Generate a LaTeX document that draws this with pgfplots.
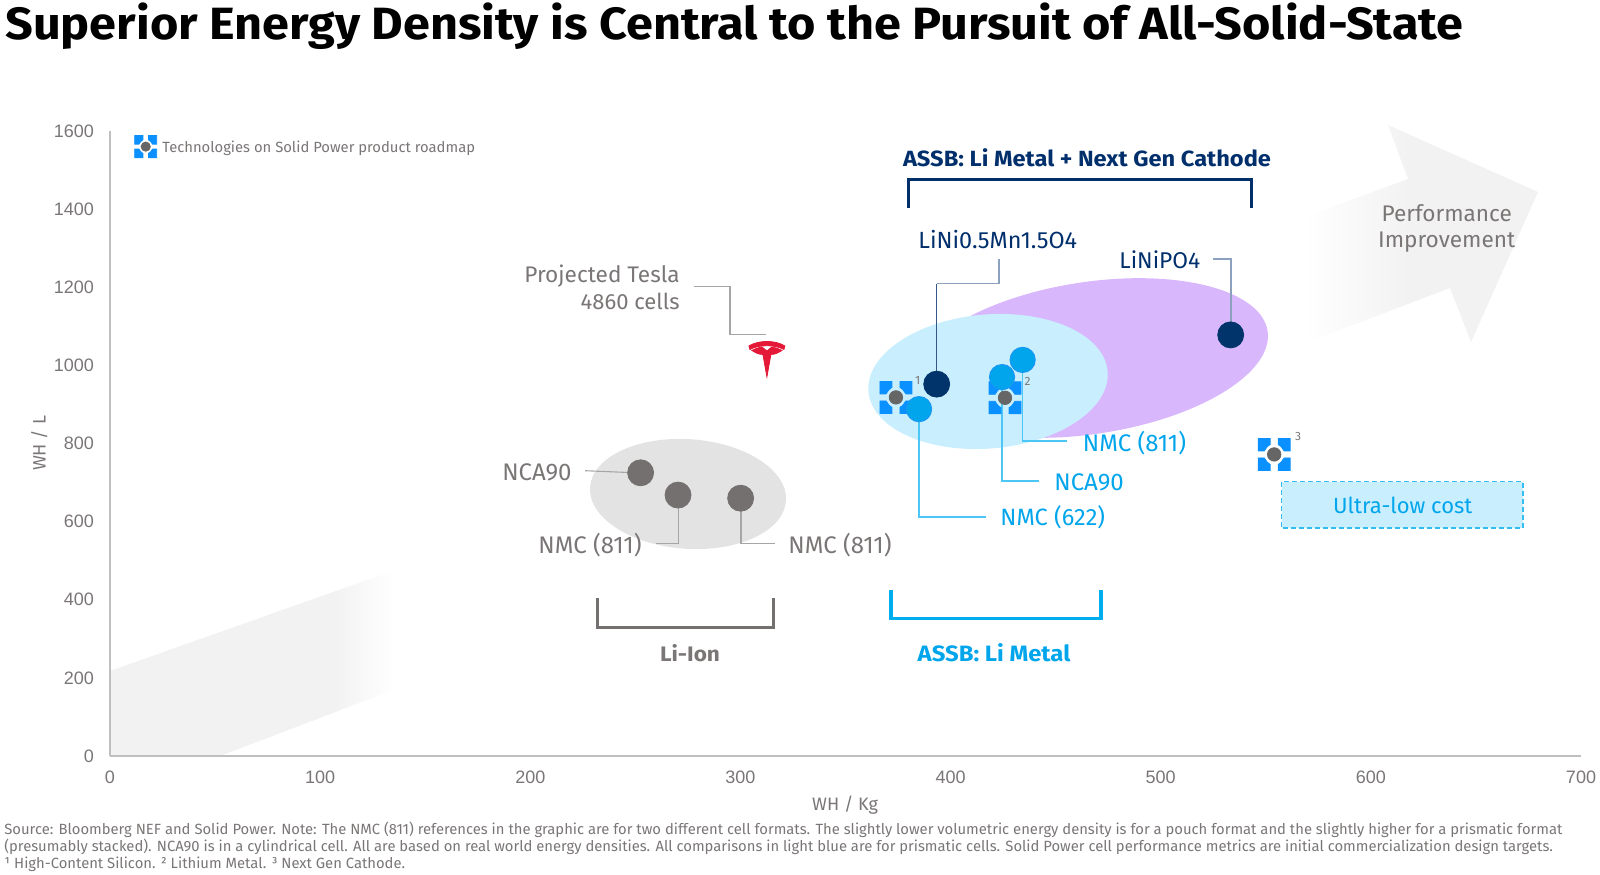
\documentclass[border=0pt]{standalone}
\usepackage{pgfplots}
\pgfplotsset{compat=1.18}
\usepackage{fontspec}
\setmainfont{Fira Sans}[BoldFeatures={FakeStretch=1.075}]
\newfontfamily\arial{Liberation Sans}
\definecolor{navy}{HTML}{002F6C}
\definecolor{dotnavy}{HTML}{00346B}
\definecolor{sky}{HTML}{00AEEF}
\definecolor{skyd}{HTML}{00A5EC}
\definecolor{txt}{HTML}{7A7676}
\definecolor{dotgray}{HTML}{757070}
\definecolor{lead}{HTML}{A6A6A6}
\definecolor{iconblue}{HTML}{0A90FF}
\definecolor{icongray}{HTML}{666666}
\definecolor{band}{HTML}{F2F2F2}
\definecolor{teslared}{HTML}{E31937}
\newcommand\fs[1]{\fontsize{#1}{#1}\selectfont}
\pgfdeclareplotmark{spicon}{%
  \fill[iconblue,x=\pgfplotmarksize,y=\pgfplotmarksize]
      (-1,1) -- (-.25,1) -- (-.25,.62) .. controls (-.38,.56) and (-.55,.38) .. (-.62,.22) -- (-1,.22) -- cycle
      (1,1) -- (.25,1) -- (.25,.62) .. controls (.38,.56) and (.55,.38) .. (.62,.22) -- (1,.22) -- cycle
      (-1,-1) -- (-.25,-1) -- (-.25,-.62) .. controls (-.38,-.56) and (-.55,-.38) .. (-.62,-.22) -- (-1,-.22) -- cycle
      (1,-1) -- (.25,-1) -- (.25,-.62) .. controls (.38,-.56) and (.55,-.38) .. (.62,-.22) -- (1,-.22) -- cycle;
  \fill[icongray] (0,0) circle [radius=.42\pgfplotmarksize];}
\pgfdeclareplotmark{teslamark}{%
  \fill[teslared,x=.5pt,y=.5pt] (-18,12) .. controls (-8,18) and (8,18) .. (18,12)
     -- (17,8.5) .. controls (8,13.5) and (-8,13.5) .. (-17,8.5) -- cycle;
  \fill[teslared,x=.5pt,y=.5pt] (-15,7.5) .. controls (-11,9.5) and (-8,10.5) .. (-5,11)
     -- (0,7) -- (5,11) .. controls (8,10.5) and (11,9.5) .. (15,7.5)
     .. controls (11,5) and (8,3.5) .. (4,3.5) -- (0,-19) -- (-4,3.5)
     .. controls (-8,3.5) and (-11,5) .. (-15,7.5) -- cycle;}
\begin{document}
\begin{tikzpicture}
\useasboundingbox (0,0) rectangle (800pt,437pt);
\begin{scope}[x=.5pt,y=-.5pt,yshift=437pt]
  % faded performance band
  \begin{scope}
    \clip (110,671) -- (110,756) -- (220,756) -- (480,657) -- (480,540) -- cycle;
    \fill[band] (110,500) rectangle (336,756);
    \shade[left color=band,right color=white] (335,500) rectangle (394,756);
  \end{scope}
  \begin{scope}
    \clip (1250,237) -- (1408,179) -- (1388,125) -- (1538,192) -- (1471,342) -- (1450,288) -- (1250,364) -- cycle;
    \shade[left color=white,right color=band] (1305,100) rectangle (1410,400);
    \fill[band] (1409,100) rectangle (1560,400);
  \end{scope}
  % clusters
  \fill[fill=black!11,shift={(688,494)},rotate=-4] (0,0) ellipse [x radius=98.2,y radius=54.8];
  \fill[fill={rgb,255:red,217;green,183;blue,252},shift={(1090,358)},rotate=8.6] (0,0) ellipse [x radius=179.6,y radius=76];
  \fill[fill={rgb,255:red,201;green,239;blue,255},shift={(988,381.5)},rotate=4.8] (0,0) ellipse [x radius=120,y radius=67];
  % leaders
  \draw[lead,line width=.55pt] (694,286.7) -- (730,286.7) -- (730,334.3) -- (766,334.3);
  \draw[lead,line width=.55pt] (585,470.7) -- (640,473);
  \draw[lead,line width=.55pt] (656,543.3) -- (678.5,543.3) -- (678.5,495);
  \draw[lead,line width=.55pt] (775,543.3) -- (741,543.3) -- (741,498);
  \draw[sky!70!white,line width=.55pt] (986,517) -- (919,517) -- (919,409);
  \draw[sky!70!white,line width=.55pt] (1039,481) -- (1002,481) -- (1002,377);
  \draw[sky!70!white,line width=.55pt] (1066.7,441) -- (1022.7,441) -- (1022.7,360);
  \draw[navy!45!white,line width=.6pt] (999,259) -- (999,283.7) -- (936.7,283.7);
  \draw[navy!80!white,line width=.6pt] (936.7,283.7) -- (936.7,384);
  \draw[navy!45!white,line width=.6pt] (1213,259) -- (1231,259) -- (1231,335);
  % brackets
  \draw[navy,line width=1.5pt,line cap=butt] (908,208) -- (908,180) -- (1251,180) -- (1251,208);
  \draw[dotgray,line width=1.5pt] (597,598) -- (597,627) -- (773.5,627) -- (773.5,598);
  \draw[sky,line width=1.7pt] (891,590) -- (891,618.5) -- (1101,618.5) -- (1101,590);
  % ultra-low box
  \draw[sky!80!white,fill={rgb,255:red,201;green,239;blue,255},line width=.6pt,dash pattern=on 2.5pt off 1.5pt] (1281.7,481.7) rectangle (1523,528);
  % texts
  \node[anchor=west,inner sep=0,font=\bfseries\fs{22.6}] at (5,26) {Superior Energy Density is Central to the Pursuit of All-Solid-State};
  \node[anchor=west,inner sep=0,font=\fs{7.4},txt] at (162,148) {Technologies on Solid Power product roadmap};
  \node[inner sep=0,font=\bfseries\fs{11},navy] at (1087,157.5) {ASSB: Li Metal + Next Gen Cathode};
  \node[anchor=west,inner sep=0,font=\fs{11.7},navy] at (918,240) {LiNi0.5Mn1.5O4};
  \node[anchor=west,inner sep=0,font=\fs{11.4},navy] at (1119,260) {LiNiPO4};
  \node[anchor=east,inner sep=0,font=\fs{11.3},txt] at (680,276) {Projected Tesla};
  \node[anchor=east,inner sep=0,font=\fs{11},txt] at (680,301.7) {4860 cells};
  \node[anchor=east,inner sep=0,font=\fs{12},txt] at (572,472) {NCA90};
  \node[anchor=east,inner sep=0,font=\fs{12},txt] at (642,545) {NMC (811)};
  \node[anchor=west,inner sep=0,font=\fs{12},txt] at (788,545) {NMC (811)};
  \node[anchor=west,inner sep=0,font=\fs{12},skyd] at (1082.5,442.7) {NMC (811)};
  \node[anchor=west,inner sep=0,font=\fs{12},skyd] at (1054,482) {NCA90};
  \node[anchor=west,inner sep=0,font=\fs{11.8},skyd] at (1000,517.5) {NMC (622)};
  \node[inner sep=0,font=\fs{11},skyd] at (1402.7,505) {Ultra-low cost};
  \node[inner sep=0,font=\fs{11.3},txt] at (1446.7,212.7) {Performance};
  \node[inner sep=0,font=\fs{11.3},txt] at (1446.7,242) {Improvement};
  \node[inner sep=0,font=\bfseries\fs{10.5},txt] at (690,653) {Li-Ion};
  \node[inner sep=0,font=\bfseries\fs{11.1},skyd] at (994,653) {ASSB: Li Metal};
  \node[inner sep=0,font=\fs{6},txt] at (917.7,380) {1};
  \node[inner sep=0,font=\fs{6},txt] at (1027.7,381.7) {2};
  \node[inner sep=0,font=\fs{6},txt] at (1298,436.7) {3};
  \node[anchor=west,inner sep=0,font=\fs{7.4},txt] at (4,830) {Source: Bloomberg NEF and Solid Power. Note: The NMC (811) references in the graphic are for two different cell formats. The slightly lower volumetric energy density is for a pouch format and the slightly higher for a prismatic format};
  \node[anchor=west,inner sep=0,font=\fs{7.4},txt] at (4,847) {(presumably stacked). NCA90 is in a cylindrical cell. All are based on real world energy densities. All comparisons in light blue are for prismatic cells. Solid Power cell performance metrics are initial commercialization design targets.};
  \node[anchor=west,inner sep=0,font=\fs{7.4},txt] at (4,864) {¹ High-Content Silicon. ² Lithium Metal. ³ Next Gen Cathode.};
\end{scope}
\begin{axis}[
  at={(55pt,59pt)},anchor=south west,
  scale only axis,width=735.5pt,height=312.5pt,
  xmin=0,xmax=700,ymin=0,ymax=1600,
  axis x line*=bottom,axis y line*=left,
  axis line style={-,draw=black!25,line width=.8pt},
  xtick={0,100,...,700},ytick={0,200,...,1600},
  major tick length=0pt,
  /pgf/number format/assume math mode=true,
  /pgf/number format/1000 sep={},
  tick label style={font=\arial\fs{9},text=txt},
  xticklabel style={yshift=-4pt},
  yticklabel style={xshift=-4.5pt},
  xlabel={WH / Kg},ylabel={WH / L},
  every axis x label/.style={at={(axis description cs:0.4997,-0.0784)},anchor=center,font=\fs{9},text=txt},
  every axis y label/.style={at={(axis description cs:-0.048,0.5)},anchor=center,rotate=90,font=\fs{9},text=txt},
  clip=false,
]
% roadmap technologies
\addplot[only marks,mark=spicon,mark size=8pt] coordinates {(374,918) (425.9,917) (554,772)};
\addplot[only marks,mark=spicon,mark size=5.5pt] coordinates {(17,1560)};
% Tesla
\addplot[only marks,mark=teslamark] coordinates {(312.6,1019)};
% Li-Ion
\addplot[only marks,mark=*,mark size=6.5pt,mark options={draw=dotgray,fill=dotgray}] coordinates {(252.5,725) (270.3,668) (300.1,660)};
% ASSB Li metal
\addplot[only marks,mark=*,mark size=6.3pt,mark options={draw=sky!80!blue!90!white,fill=skyd,line width=.5pt}] coordinates {(385,888) (424.5,970) (434.3,1014)};
% next-gen cathode
\addplot[only marks,mark=*,mark size=6.5pt,mark options={draw=dotnavy,fill=dotnavy}] coordinates {(393.4,952) (533.3,1078)};
\end{axis}
\end{tikzpicture}
\end{document}
